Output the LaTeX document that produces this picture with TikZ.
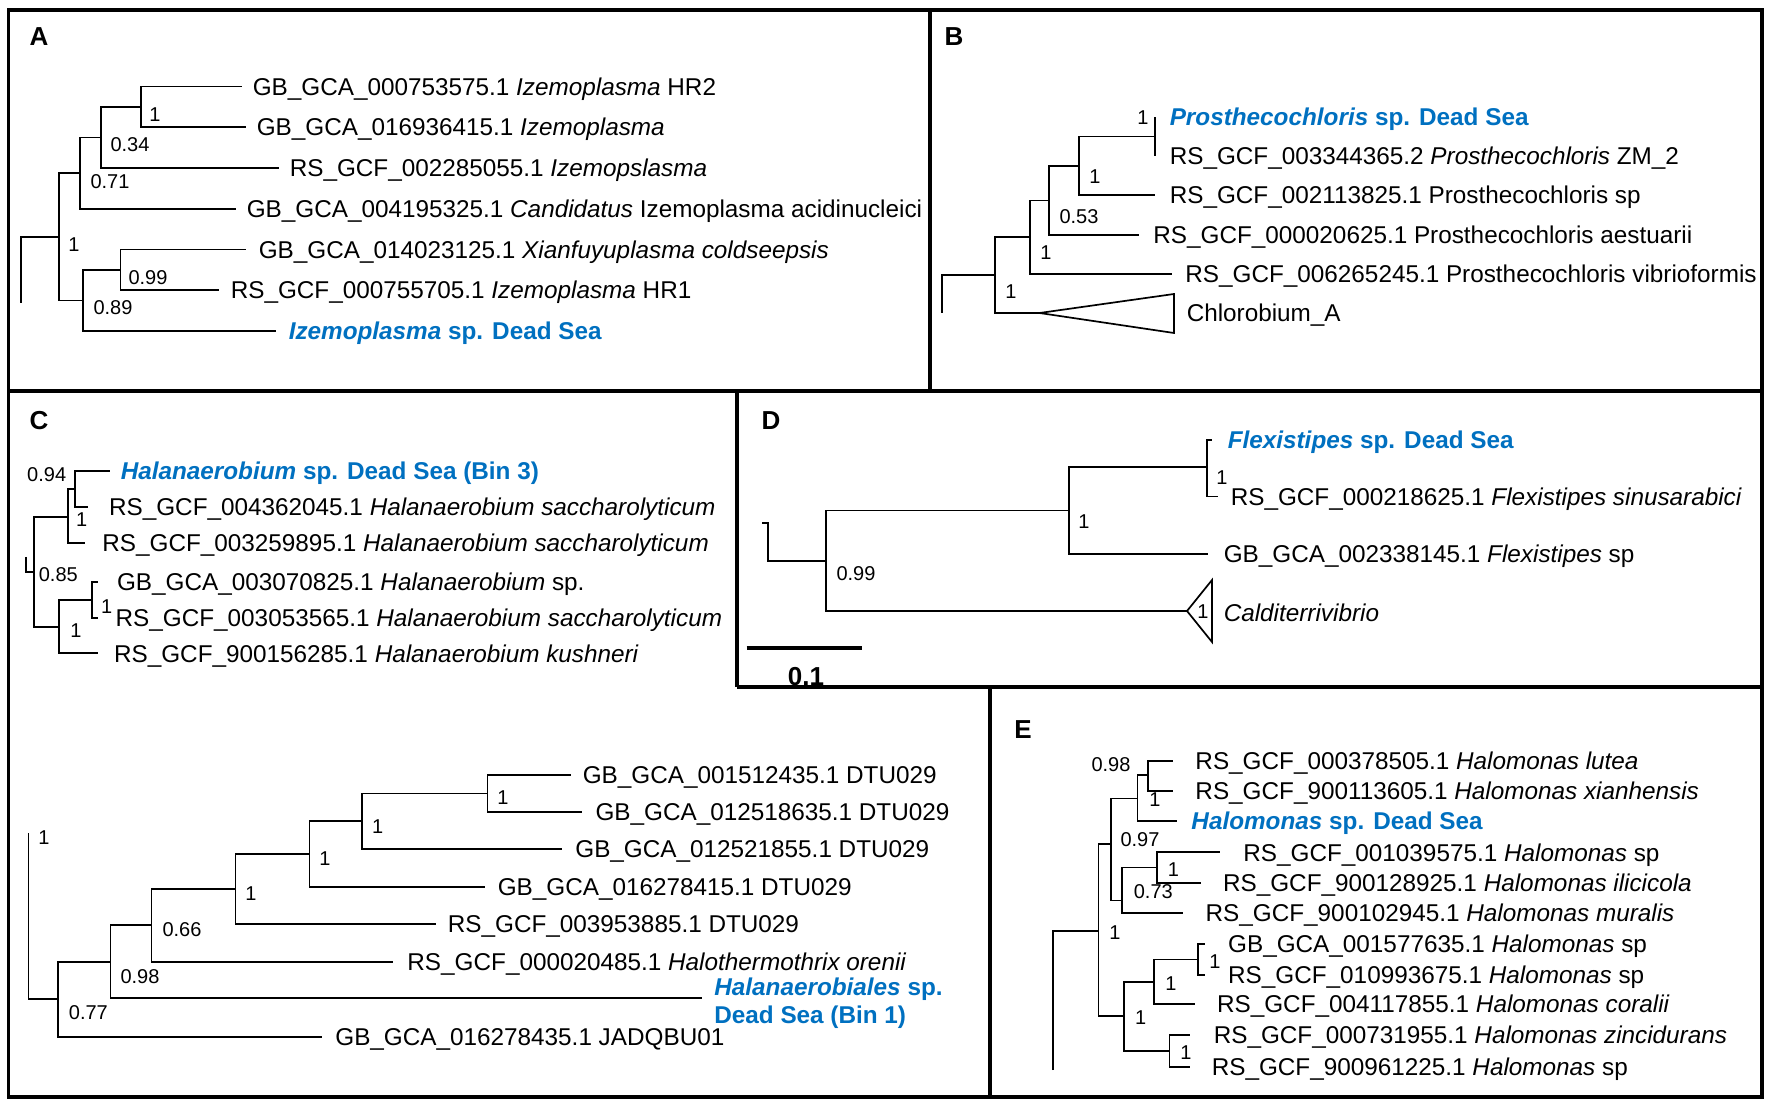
\documentclass[tikz,border=0pt]{standalone}
\usepackage{fontspec}
\setmainfont{Liberation Sans}
\usetikzlibrary{positioning}

\definecolor{deadsea}{RGB}{0,112,192}
\newcommand{\leaffont}{\fontsize{12.15}{14.2}\selectfont}
\newcommand{\suppfont}{\fontsize{10}{12}\selectfont}
\newcommand{\panelfont}{\fontsize{13}{15}\selectfont\bfseries}

\tikzset{every picture/.style={line width=0.75pt}}
\tikzset{
  frame/.style={line width=1.7pt},
  branch/.style={line width=0.85pt},
  leaf/.style={anchor=west, inner sep=0pt, font=\leaffont, text height=8.7pt, text depth=0pt},
  ourleaf/.style={leaf, text=deadsea, font=\leaffont\bfseries},
  supp/.style={inner sep=0pt, font=\suppfont},
  plabel/.style={inner sep=0pt, font=\panelfont}
}

\begin{document}
\begin{tikzpicture}[x=0.5pt,y=0.5pt,yscale=-1,xscale=1]
\useasboundingbox (0,0) rectangle (1772,1106);

%Frame
\draw[frame] (8.5,10) rectangle (1762,1097);
\draw[frame] (8.5,391) -- (1762,391);
\draw[frame] (930,10) -- (930,391);
\draw[frame] (737,391) -- (737,687);
\draw[frame] (737,687) -- (1762,687);
\draw[frame] (990,687) -- (990,1097);

% Panel letters
\node[plabel] (labA) at (39,37) {A};
\node[plabel] (labB) at (954,37) {B};
\node[plabel] (labC) at (39,421) {C};
\node[plabel] (labD) at (771,421) {D};
\node[plabel] (labE) at (1023,730) {E};

%%%%%%%%%%%%%%%% A
\coordinate (a0s) at (21,303);
\coordinate (a0) at (21,237);
\coordinate (a1) at (59,237);
\coordinate (a2) at (80,173);
\coordinate (a3) at (101,137.5);
\coordinate (a4) at (141,107);
\coordinate (a5) at (83,300.5);
\coordinate (a6) at (120.5,270);
\coordinate (aT1) at (242,86.5);
\coordinate (aT2) at (246,127);
\coordinate (aT3) at (279,168);
\coordinate (aT4) at (236,209);
\coordinate (aT5) at (246,249.5);
\coordinate (aT6) at (219,290);
\coordinate (aT7) at (276,331);
\node[leaf, right=5pt of aT1] (aL1) {GB\_GCA\_000753575.1 \textit{Izemoplasma} HR2};
\node[leaf, right=5pt of aT2] (aL2) {GB\_GCA\_016936415.1 \textit{Izemoplasma}};
\node[leaf, right=5pt of aT3] (aL3) {RS\_GCF\_002285055.1 \textit{Izemopslasma}};
\node[leaf, right=5pt of aT4] (aL4) {GB\_GCA\_004195325.1 \textit{Candidatus} Izemoplasma acidinucleici};
\node[leaf, right=6pt of aT5] (aL5) {GB\_GCA\_014023125.1 \textit{Xianfuyuplasma coldseepsis}};
\node[leaf, right=5.5pt of aT6] (aL6) {RS\_GCF\_000755705.1 \textit{Izemoplasma} HR1};
\node[ourleaf, right=6pt of aT7] (aL7) {\textit{Izemoplasma} sp. Dead Sea};
\draw[branch] (a0s) -- (a0) -- (a1);
\draw[branch] (a1) |- (a2) (a1) |- (a5);
\draw[branch] (a2) |- (a3) (a2) |- (aT4);
\draw[branch] (a3) |- (a4) (a3) |- (aT3);
\draw[branch] (a4) |- (aT1) (a4) |- (aT2);
\draw[branch] (a5) |- (a6) (a5) |- (aT7);
\draw[branch] (a6) |- (aT5) (a6) |- (aT6);
\node[supp] (sA1) at (74,245) {1};
\node[supp] (sA2) at (110,182) {0.71};
\node[supp] (sA3) at (130,145) {0.34};
\node[supp] (sA4) at (155,115) {1};
\node[supp] (sA5) at (113,308) {0.89};
\node[supp] (sA6) at (148,278) {0.99};

%%%%%%%%%%%%%%%% B
\coordinate (b0s) at (942,313);
\coordinate (b0) at (942,275);
\coordinate (b1) at (995,275);
\coordinate (b2) at (1030,237);
\coordinate (b3) at (1049,200.5);
\coordinate (b4) at (1079,166);
\coordinate (b5) at (1155,136.5);
\coordinate (bT1) at (1155,116.7);
\coordinate (bT2) at (1155,156);
\coordinate (bT3) at (1155,195);
\coordinate (bT4) at (1139,235);
\coordinate (bT5) at (1171.6,274);
\coordinate (bA) at (1039.5,313);
\coordinate (bTu) at (1174,294);
\coordinate (bTd) at (1174,333);
\coordinate (bTm) at (1174,313);
\node[ourleaf, right=7pt of bT1] (bL1) {\textit{Prosthecochloris} sp. Dead Sea};
\node[leaf, right=7pt of bT2] (bL2) {RS\_GCF\_003344365.2 \textit{Prosthecochloris} ZM\_2};
\node[leaf, right=7pt of bT3] (bL3) {RS\_GCF\_002113825.1 Prosthecochloris sp};
\node[leaf, right=6.8pt of bT4] (bL4) {RS\_GCF\_000020625.1 Prosthecochloris aestuarii};
\node[leaf, right=6.5pt of bT5] (bL5) {RS\_GCF\_006265245.1 Prosthecochloris vibrioformis};
\node[leaf, right=6pt of bTm] (bL6) {Chlorobium\_A};
\draw[branch] (b0s) -- (b0) -- (b1);
\draw[branch] (b1) |- (b2) (b1) |- (bA);
\draw[branch] (bA) -- (bTu) -- (bTd) -- cycle;
\draw[branch] (b2) |- (b3) (b2) |- (bT5);
\draw[branch] (b3) |- (b4) (b3) |- (bT4);
\draw[branch] (b4) |- (b5) (b4) |- (bT3);
\draw[branch] (b5) |- (bT1) (b5) |- (bT2);
\node[supp] (sB1) at (1011,292) {1};
\node[supp] (sB2) at (1046,253) {1};
\node[supp] (sB3) at (1079,217) {0.53};
\node[supp] (sB4) at (1095,177) {1};
\node[supp] (sB5) at (1143,118) {1};

%%%%%%%%%%%%%%%% C (Bin 3)
\coordinate (c0s) at (26,557);
\coordinate (c0) at (26,572);
\coordinate (c1) at (34.3,572);
\coordinate (c2) at (68.3,517);
\coordinate (c3) at (75,489);
\coordinate (c4) at (59.3,627);
\coordinate (c5) at (91.7,600);
\coordinate (cT1) at (110,471);
\coordinate (cT2) at (88.3,507);
\coordinate (cT3) at (85,543);
\coordinate (cT4) at (98.3,582);
\coordinate (cT5) at (98.3,618);
\coordinate (cT6) at (98.3,653.3);
\node[ourleaf, right=5pt of cT1] (cL1) {\textit{Halanaerobium} sp. Dead Sea (Bin 3)};
\node[leaf, right=10pt of cT2] (cL2) {RS\_GCF\_004362045.1 \textit{Halanaerobium saccharolyticum}};
\node[leaf, right=8.3pt of cT3] (cL3) {RS\_GCF\_003259895.1 \textit{Halanaerobium saccharolyticum}};
\node[leaf, right=9pt of cT4] (cL4) {GB\_GCA\_003070825.1 \textit{Halanaerobium} sp.};
\node[leaf, right=8.3pt of cT5] (cL5) {RS\_GCF\_003053565.1 \textit{Halanaerobium saccharolyticum}};
\node[leaf, right=7.5pt of cT6] (cL6) {RS\_GCF\_900156285.1 \textit{Halanaerobium kushneri}};
\draw[branch] (c0s) -- (c0) -- (c1);
\draw[branch] (c1) |- (c2) (c1) |- (c4);
\draw[branch] (c2) |- (c3) (c2) |- (cT3);
\draw[branch] (c3) |- (cT1) (c3) |- (cT2);
\draw[branch] (c4) |- (c5) (c4) |- (cT6);
\draw[branch] (c5) |- (cT4) (c5) |- (cT5);
\node[supp] (sC1) at (46.7,475) {0.94};
\node[supp] (sC2) at (81.7,520) {1};
\node[supp] (sC3) at (58.3,575) {0.85};
\node[supp] (sC4) at (76,631) {1};
\node[supp] (sC5) at (106.7,607) {1};

%%%%%%%%%%%%%%%% C (Bin 1)
\coordinate (h0s) at (28.4,833);
\coordinate (h0) at (28.4,999);
\coordinate (h1) at (58,999);
\coordinate (h2) at (110.5,961.7);
\coordinate (h3) at (151.5,925.3);
\coordinate (h4) at (235.5,889);
\coordinate (h5) at (309.4,854);
\coordinate (h6) at (361.8,821.2);
\coordinate (h7) at (487.4,793.4);
\coordinate (hT1) at (571.4,775);
\coordinate (hT2) at (582,811.7);
\coordinate (hT3) at (562,849);
\coordinate (hT4) at (485,886.7);
\coordinate (hT5) at (435.7,924);
\coordinate (hT6) at (392.7,961.7);
\coordinate (hT7) at (702,998);
\coordinate (hT8) at (322,1036.7);
\node[leaf, right=5.3pt of hT1] (hL1) {GB\_GCA\_001512435.1 DTU029};
\node[leaf, right=6.4pt of hT2] (hL2) {GB\_GCA\_012518635.1 DTU029};
\node[leaf, right=6.3pt of hT3] (hL3) {GB\_GCA\_012521855.1 DTU029};
\node[leaf, right=6pt of hT4] (hL4) {GB\_GCA\_016278415.1 DTU029};
\node[leaf, right=5.7pt of hT5] (hL5) {RS\_GCF\_003953885.1 DTU029};
\node[leaf, right=7pt of hT6] (hL6) {RS\_GCF\_000020485.1 \textit{Halothermothrix orenii}};
\node[ourleaf, text height=, text depth=, align=left, right=5.8pt of hT7, yshift=-2.5pt] (hL7) {\textit{Halanaerobiales} sp.\\Dead Sea (Bin 1)};
\node[leaf, right=6.3pt of hT8] (hL8) {GB\_GCA\_016278435.1 JADQBU01};
\draw[branch] (h0s) -- (h0) -- (h1);
\draw[branch] (h1) |- (h2) (h1) |- (hT8);
\draw[branch] (h2) |- (h3) (h2) |- (hT7);
\draw[branch] (h3) |- (h4) (h3) |- (hT6);
\draw[branch] (h4) |- (h5) (h4) |- (hT5);
\draw[branch] (h5) |- (h6) (h5) |- (hT4);
\draw[branch] (h6) |- (h7) (h6) |- (hT3);
\draw[branch] (h7) |- (hT1) (h7) |- (hT2);
\node[supp] (sH0) at (44,838) {1};
\node[supp] (sH1) at (88.4,1013) {0.77};
\node[supp] (sH2) at (140,977) {0.98};
\node[supp] (sH3) at (182,930) {0.66};
\node[supp] (sH4) at (251,894) {1};
\node[supp] (sH5) at (325,859) {1};
\node[supp] (sH6) at (377.6,827) {1};
\node[supp] (sH7) at (503,798) {1};

%%%%%%%%%%%%%%%% D
\coordinate (d0t) at (762,523.3);
\coordinate (d0s) at (768.3,523.3);
\coordinate (d0) at (768.3,561);
\coordinate (d1) at (826,561);
\coordinate (d2) at (1069,510.6);
\coordinate (d3) at (1207,467.3);
\coordinate (dT1) at (1212,440);
\coordinate (dT2) at (1218,496.5);
\coordinate (dT3) at (1208,554);
\coordinate (dA) at (1187,611);
\coordinate (dTu) at (1212,580);
\coordinate (dTd) at (1212,642);
\coordinate (dTm) at (1212,613);
\node[ourleaf, right=7.5pt of dT1] (dL1) {\textit{Flexistipes} sp. Dead Sea};
\node[leaf, right=6pt of dT2] (dL2) {RS\_GCF\_000218625.1 \textit{Flexistipes sinusarabici}};
\node[leaf, right=7.5pt of dT3] (dL3) {GB\_GCA\_002338145.1 \textit{Flexistipes} sp};
\node[leaf, right=5.5pt of dTm] (dL4) {\textit{Calditerrivibrio}};
\draw[branch] (d0t) -- (d0s) -- (d0) -- (d1);
\draw[branch] (d1) |- (d2) (d1) |- (dA);
\draw[branch] (dA) -- (dTu) -- (dTd) -- cycle;
\draw[branch] (d2) |- (d3) (d2) |- (dT3);
\draw[branch] (d3) |- (dT1) (d3) |- (dT2);
\node[supp] (sD1) at (856,574) {0.99};
\node[supp] (sD2) at (1084,522) {1};
\node[supp] (sD3) at (1222,478) {1};
\node[supp] (sD4) at (1203,612) {1};
%Scale bar
\coordinate (sb1) at (746.6,648);
\coordinate (sb2) at (861.6,648);
\draw[line width=2pt] (sb1) -- (sb2);
\node[plabel] (sbl) at (806,677) {0.1};

%%%%%%%%%%%%%%%% E
\coordinate (e0s) at (1053,1070);
\coordinate (e0) at (1053,931);
\coordinate (e1) at (1098.5,931);
\coordinate (e2) at (1110.7,844.2);
\coordinate (e3) at (1137.5,798.4);
\coordinate (e4) at (1148.3,775);
\coordinate (e5) at (1122.3,900.5);
\coordinate (e6) at (1156.7,867.5);
\coordinate (e7) at (1124,1016.3);
\coordinate (e8) at (1154,981.7);
\coordinate (e9) at (1198,959.5);
\coordinate (e10) at (1169.4,1050.8);
\coordinate (eT1) at (1172.7,760.7);
\coordinate (eT2) at (1172.7,790.7);
\coordinate (eT3) at (1176.7,821);
\coordinate (eT4) at (1220,852.3);
\coordinate (eT5) at (1200.7,882.7);
\coordinate (eT6) at (1183.3,912.7);
\coordinate (eT7) at (1204.8,944);
\coordinate (eT8) at (1204.8,975);
\coordinate (eT9) at (1194.7,1004);
\coordinate (eT10) at (1189.6,1035);
\coordinate (eT11) at (1189.6,1066.7);
\node[leaf, right=11pt of eT1] (eL1) {RS\_GCF\_000378505.1 \textit{Halomonas lutea}};
\node[leaf, right=11pt of eT2] (eL2) {RS\_GCF\_900113605.1 \textit{Halomonas xianhensis}};
\node[ourleaf, right=7pt of eT3] (eL3) {\textit{Halomonas} sp. Dead Sea};
\node[leaf, right=11.3pt of eT4] (eL4) {RS\_GCF\_001039575.1 \textit{Halomonas} sp};
\node[leaf, right=10.8pt of eT5] (eL5) {RS\_GCF\_900128925.1 \textit{Halomonas ilicicola}};
\node[leaf, right=10.8pt of eT6] (eL6) {RS\_GCF\_900102945.1 \textit{Halomonas muralis}};
\node[leaf, right=11.3pt of eT7] (eL7) {GB\_GCA\_001577635.1 \textit{Halomonas} sp};
\node[leaf, right=11.3pt of eT8] (eL8) {RS\_GCF\_010993675.1 \textit{Halomonas} sp};
\node[leaf, right=10.8pt of eT9] (eL9) {RS\_GCF\_004117855.1 \textit{Halomonas coralii}};
\node[leaf, right=11.7pt of eT10] (eL10) {RS\_GCF\_000731955.1 \textit{Halomonas zincidurans}};
\node[leaf, right=10.7pt of eT11] (eL11) {RS\_GCF\_900961225.1 \textit{Halomonas} sp};
\draw[branch] (e0s) -- (e0) -- (e1);
\draw[branch] (e1) |- (e2) (e1) |- (e7);
\draw[branch] (e2) |- (e3) (e2) |- (e5);
\draw[branch] (e3) |- (e4) (e3) |- (eT3);
\draw[branch] (e4) |- (eT1) (e4) |- (eT2);
\draw[branch] (e5) |- (e6) (e5) |- (eT6);
\draw[branch] (e6) |- (eT4) (e6) |- (eT5);
\draw[branch] (e7) |- (e8) (e7) |- (e10);
\draw[branch] (e8) |- (e9) (e8) |- (eT9);
\draw[branch] (e9) |- (eT7) (e9) |- (eT8);
\draw[branch] (e10) |- (eT10) (e10) |- (eT11);
\node[supp] (sE1) at (1115,933) {1};
\node[supp] (sE2) at (1140,840) {0.97};
\node[supp] (sE3) at (1155,800) {1};
\node[supp] (sE4) at (1111,765) {0.98};
\node[supp] (sE5) at (1153.3,892) {0.73};
\node[supp] (sE6) at (1173.3,870) {1};
\node[supp] (sE7) at (1140.6,1018) {1};
\node[supp] (sE8) at (1171,984) {1};
\node[supp] (sE9) at (1215,962) {1};
\node[supp] (sE10) at (1186,1053) {1};

\end{tikzpicture}
\end{document}
